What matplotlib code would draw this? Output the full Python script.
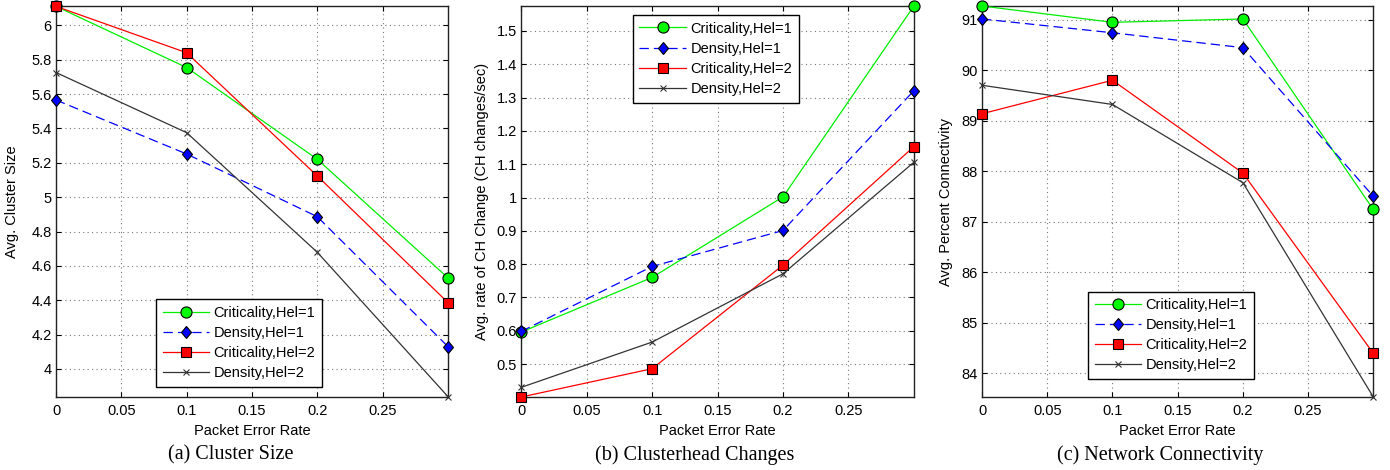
import matplotlib
matplotlib.use('Agg')
import matplotlib.pyplot as plt
from matplotlib.markers import MarkerStyle
from matplotlib.transforms import Affine2D

# --- dati ---
per = [0, 0.1, 0.2, 0.3]
series_names = ['Criticality,Hel=1', 'Density,Hel=1', 'Criticality,Hel=2', 'Density,Hel=2']

# (a) Cluster Size
size_crit1 = [6.11, 5.754, 5.22, 4.53]
size_dens1 = [5.565, 5.251, 4.886, 4.13]
size_crit2 = [6.11, 5.84, 5.123, 4.386]
size_dens2 = [5.725, 5.375, 4.679, 3.839]

# (b) Clusterhead Changes
chg_crit1 = [0.596, 0.76, 1.002, 1.575]
chg_dens1 = [0.598, 0.793, 0.901, 1.321]
chg_crit2 = [0.401, 0.486, 0.797, 1.153]
chg_dens2 = [0.43, 0.566, 0.771, 1.106]

# (c) Network Connectivity
conn_crit1 = [91.27, 90.947, 91.013, 87.24]
conn_dens1 = [91.013, 90.74, 90.445, 87.5]
conn_crit2 = [89.136, 89.8, 87.96, 84.39]
conn_dens2 = [89.70, 89.32, 87.77, 83.525]

x_ticks = [0, 0.05, 0.1, 0.15, 0.2, 0.25]
x_ticklabels = ['0', '0.05', '0.1', '0.15', '0.2', '0.25']
size_yticks = [4, 4.2, 4.4, 4.6, 4.8, 5, 5.2, 5.4, 5.6, 5.8, 6]
chg_yticks = [0.5, 0.6, 0.7, 0.8, 0.9, 1, 1.1, 1.2, 1.3, 1.4, 1.5]
conn_yticks = [84, 85, 86, 87, 88, 89, 90, 91]

# --- impostazioni grafiche ---
plt.rcParams['font.family'] = ['Liberation Sans', 'DejaVu Sans']
plt.rcParams['font.size'] = 10.5
plt.rcParams['axes.linewidth'] = 1.0
plt.rcParams['axes.edgecolor'] = '#222222'
plt.rcParams['xtick.direction'] = 'in'
plt.rcParams['ytick.direction'] = 'in'
plt.rcParams['xtick.top'] = True
plt.rcParams['ytick.right'] = True
plt.rcParams['xtick.major.size'] = 3.5
plt.rcParams['ytick.major.size'] = 3.5
plt.rcParams['xtick.major.pad'] = 5
plt.rcParams['ytick.major.pad'] = 3

diamond = MarkerStyle('D', transform=Affine2D().scale(0.75, 1.0))

styles = [
    dict(color='#00ee00', marker='o', markersize=8, markerfacecolor='#00ff00',
         markeredgecolor='black', markeredgewidth=0.8, linestyle='-'),
    dict(color='blue', marker=diamond, markersize=6.2, markerfacecolor='blue',
         markeredgecolor='black', markeredgewidth=0.8, linestyle=(0, (7.5, 4))),
    dict(color='red', marker='s', markersize=6.5, markerfacecolor='red',
         markeredgecolor='black', markeredgewidth=0.8, linestyle='-'),
    dict(color='#333333', marker='x', markersize=5, markeredgewidth=0.8, linestyle='-'),
]


def draw_panel(ax, series, ylim, yticks, ylabel, ylabel_x, legend_loc, legend_anchor):
    for vals, name, st in zip(series, series_names, styles):
        ax.plot(per, vals, label=name, linewidth=0.9, clip_on=False, zorder=3, **st)
    ax.set_xlim(0, 0.3)
    ax.set_ylim(*ylim)
    ax.set_xticks(x_ticks)
    ax.set_xticklabels(x_ticklabels)
    ax.set_yticks(yticks)
    ax.set_yticklabels(['%g' % v for v in yticks])
    ax.grid(True, linestyle=(0, (1, 3)), color='#777777', linewidth=0.8)
    ax.set_xlabel('Packet Error Rate')
    ax.set_ylabel(ylabel)
    ax.xaxis.set_label_coords(0.5, -0.068)
    ax.yaxis.set_label_coords(ylabel_x, 0.5)
    leg = ax.legend(loc=legend_loc, bbox_to_anchor=legend_anchor, borderaxespad=0,
                    fancybox=False, framealpha=1, edgecolor='black',
                    handlelength=3.2, handletextpad=0.3, labelspacing=0.42,
                    borderpad=0.45, fontsize=10.5)
    leg.get_frame().set_linewidth(1.0)


fig = plt.figure(figsize=(13.9, 4.7), dpi=100)
ax_a = fig.add_axes([0.0403, 0.1553, 0.2820, 0.8319])
ax_b = fig.add_axes([0.3750, 0.1553, 0.2825, 0.8319])
ax_c = fig.add_axes([0.7065, 0.1553, 0.2815, 0.8319])

draw_panel(ax_a, [size_crit1, size_dens1, size_crit2, size_dens2],
           (3.837, 6.112), size_yticks, 'Avg. Cluster Size', -0.094,
           'lower left', (0.255, 0.026))
draw_panel(ax_b, [chg_crit1, chg_dens1, chg_crit2, chg_dens2],
           (0.401, 1.575), chg_yticks, 'Avg. rate of CH Change (CH changes/sec)', -0.0815,
           'upper left', (0.284, 0.977))
draw_panel(ax_c, [conn_crit1, conn_dens1, conn_crit2, conn_dens2],
           (83.525, 91.27), conn_yticks, 'Avg. Percent Connectivity', -0.075,
           'lower left', (0.271, 0.046))

# didascalie
cap_font = dict(family=['Liberation Serif', 'DejaVu Serif'], fontsize=14.5, ha='center', va='center')
fig.text(231 / 1390, 1 - 455 / 470, '(a) Cluster Size', **cap_font)
fig.text(695 / 1390, 1 - 455 / 470, '(b) Clusterhead Changes', **cap_font)
fig.text(1160 / 1390, 1 - 455 / 470, '(c) Network Connectivity', **cap_font)

fig.savefig('out.png', dpi=100)
